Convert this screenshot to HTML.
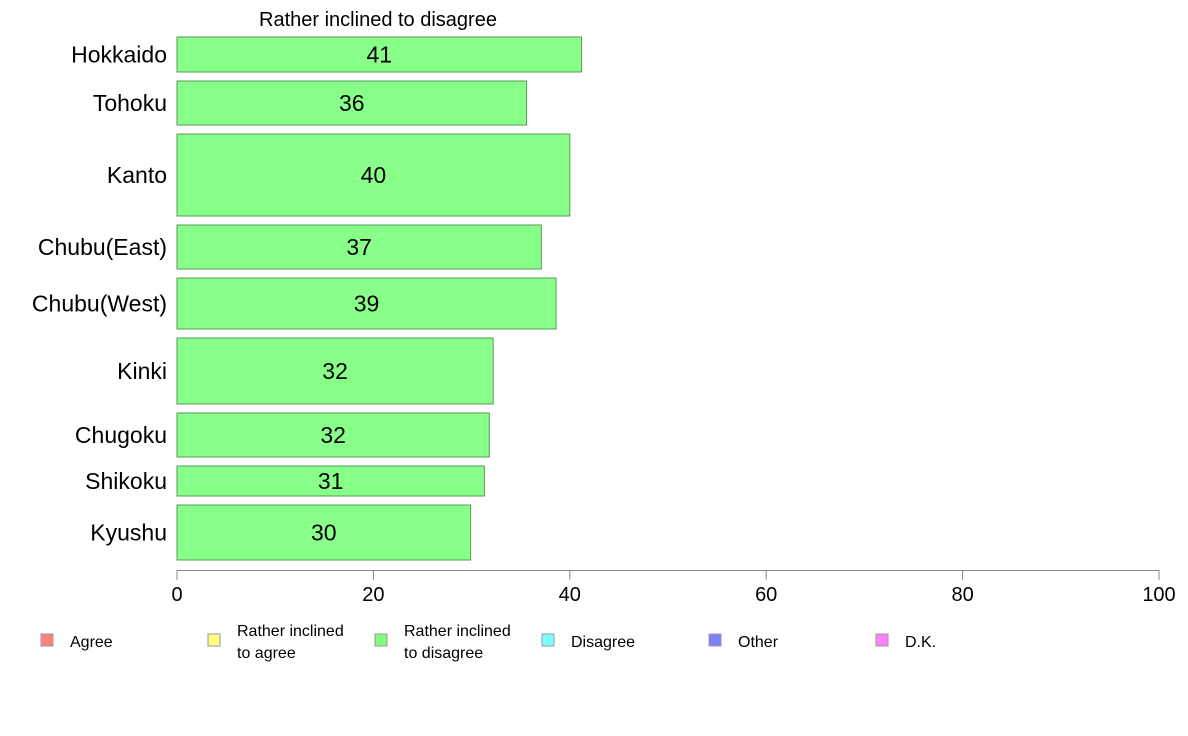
<!DOCTYPE html>
<html><head><meta charset="utf-8"><style>
html,body{margin:0;padding:0;background:#fff;}
svg{display:block;font-family:"Liberation Sans",Arial,sans-serif;}
</style></head><body>
<svg id="chart" width="1188" height="736" viewBox="0 0 1188 736">
<text x="378" y="26" font-size="20" text-anchor="middle">Rather inclined to disagree</text>
<g id="bars"></g>
<g id="axis"></g>
<g id="legend"></g>
</svg>
<script>
const categories=["Hokkaido","Tohoku","Kanto","Chubu(East)","Chubu(West)","Kinki","Chugoku","Shikoku","Kyushu"];
const values=[41.2,35.6,40.0,37.1,38.6,32.2,31.8,31.3,29.9];
const labels=["41","36","40","37","39","32","32","31","30"];
const weights=[35,44,82,44,51,66,44,30,55];
const ticks=[0,20,40,60,80,100];
const legendNames=[["Agree"],["Rather inclined","to agree"],["Rather inclined","to disagree"],["Disagree"],["Other"],["D.K."]];
const legendColors=["#ff8080","#ffff80","#80ff80","#80ffff","#8080ff","#ff80ff"];
const NS="http://www.w3.org/2000/svg";
const x0=177,x1=1159,top0=37,gap=9;
const xs=v=>x0+(x1-x0)*v/100;
function mk(t,a,p){const e=document.createElementNS(NS,t);for(const k in a)e.setAttribute(k,a[k]);p.appendChild(e);return e;}
const bars=document.getElementById('bars');
let y=top0;
categories.forEach((c,i)=>{
  const h=weights[i];
  const r=mk('rect',{x:x0,y:y,width:xs(values[i])-x0,height:h,fill:'#88ff88',stroke:'#5a9a5a','stroke-width':1},bars);
  
  
  const t=mk('text',{x:(x0+xs(values[i]))/2,y:y+h/2+8,'font-size':23,'text-anchor':'middle'},bars);
  t.textContent=labels[i];
  
  
  const l=mk('text',{x:167,y:y+h/2+8,'font-size':23,'text-anchor':'end'},bars);
  l.textContent=c;
  
  
  y+=h+gap;
});
const ax=document.getElementById('axis');
const al=mk('line',{x1:x0,y1:570.5,x2:x1,y2:570.5,stroke:'#888','stroke-width':1},ax);


ticks.forEach(v=>{
  const tl=mk('line',{x1:xs(v),y1:570,x2:xs(v),y2:580,stroke:'#888','stroke-width':1},ax);
  
  
  const tt=mk('text',{x:xs(v),y:601,'font-size':20,'text-anchor':'middle'},ax);
  tt.textContent=v;
  
  
});
const lg=document.getElementById('legend');
legendNames.forEach((n,i)=>{
  const lx=41+167*i;
  const g=mk('g',{},lg);
  
  
  mk('rect',{x:lx,y:634,width:12,height:12,fill:legendColors[i],stroke:'#999','stroke-width':1},g);
  if(n.length===1){const t=mk('text',{x:lx+29,y:647,'font-size':16},g);t.textContent=n[0];}
  else{n.forEach((s,j)=>{const t=mk('text',{x:lx+196-167+0,y:636+j*22,'font-size':16},g);t.setAttribute('x',lx+196-167);t.textContent=s;});}
});
</script>
</body></html>
